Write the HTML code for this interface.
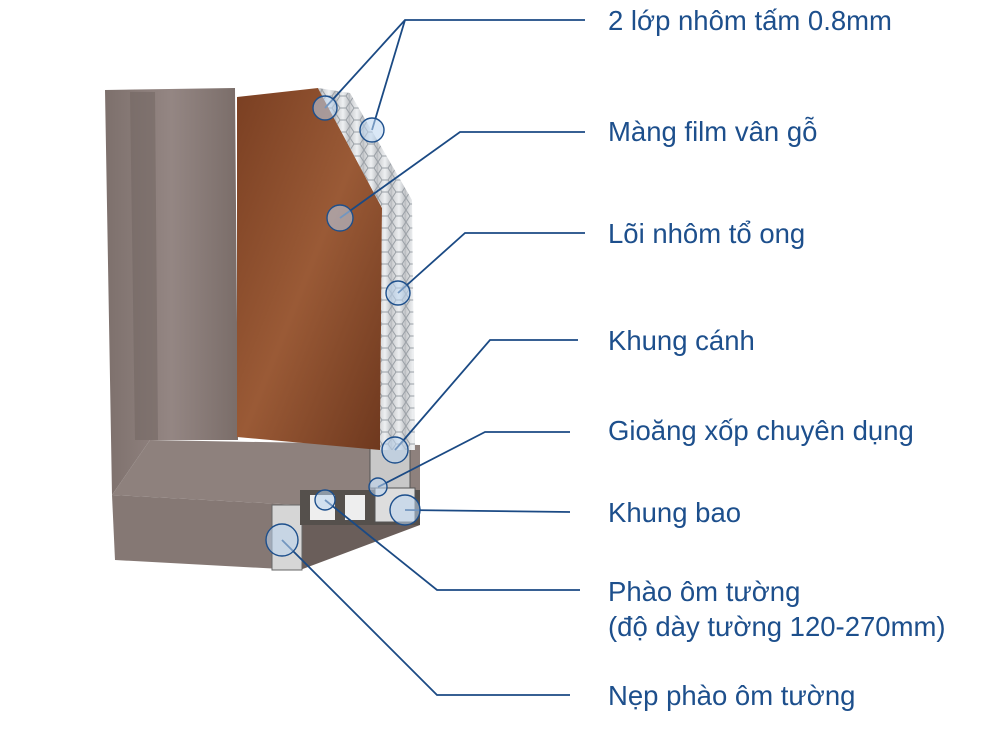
<!DOCTYPE html>
<html><head><meta charset="utf-8"><style>
html,body{margin:0;padding:0;background:#fff;}
svg{display:block}
text{font-family:"Liberation Sans",sans-serif;font-size:27.5px;fill:#1d4f8c;}
</style></head><body>
<svg width="986" height="740" viewBox="0 0 986 740" xmlns="http://www.w3.org/2000/svg">
<defs>
<linearGradient id="fr" x1="0" x2="1"><stop offset="0" stop-color="#7d706c"/><stop offset="0.5" stop-color="#948683"/><stop offset="1" stop-color="#7a6d69"/></linearGradient>
<linearGradient id="wd" x1="0" x2="1" y1="0" y2="1"><stop offset="0" stop-color="#7a3f22"/><stop offset="0.5" stop-color="#9a5a36"/><stop offset="1" stop-color="#6e381e"/></linearGradient>
<linearGradient id="hc" x1="0" x2="1"><stop offset="0" stop-color="#c9cbce"/><stop offset="0.5" stop-color="#eef0f2"/><stop offset="1" stop-color="#b8bbbf"/></linearGradient>
<pattern id="hx" width="14" height="12" patternUnits="userSpaceOnUse"><rect width="14" height="12" fill="url(#hc)"/><path d="M0 6 L4 0 L10 0 L14 6 L10 12 L4 12 Z" fill="none" stroke="#9aa0a6" stroke-width="1"/></pattern>
</defs>
<polygon points="105,90 235,88 238,440 150,440 112,495" fill="url(#fr)"/>
<polygon points="130,92 155,92 158,440 135,440" fill="#6f6360" opacity="0.5"/>
<polygon points="112,495 150,440 420,445 420,500 300,505" fill="#8e817d"/>
<polygon points="112,495 300,505 300,570 115,560" fill="#857874"/>
<polygon points="300,505 420,500 420,525 300,570" fill="#6a5e5a"/>
<rect x="272" y="505" width="30" height="65" fill="#d6d6d6" stroke="#666" stroke-width="1"/>
<rect x="300" y="490" width="120" height="35" fill="#55504c"/>
<rect x="310" y="495" width="25" height="25" fill="#eee"/>
<rect x="345" y="495" width="20" height="25" fill="#eee"/>
<rect x="375" y="488" width="40" height="34" fill="#ddd" stroke="#555"/>
<rect x="370" y="440" width="40" height="48" fill="#c8c8c8" stroke="#555"/>
<polygon points="237,97 318,88 382,208 380,450 237,437" fill="url(#wd)"/>
<polygon points="318,88 350,93 412,200 415,450 380,450 382,208" fill="url(#hx)"/>
<g stroke="#1b4a84" stroke-width="1.8" fill="none">
<polyline points="325,108 405,20 585,20"/><line x1="405" y1="20" x2="372" y2="130"/>
<polyline points="340,218 460,132 585,132"/>
<polyline points="398,293 465,233 585,233"/>
<polyline points="395,450 490,340 578,340"/>
<polyline points="378,487 485,432 570,432"/>
<polyline points="405,510 570,512"/>
<polyline points="325,500 437,590 580,590"/>
<polyline points="282,540 437,695 570,695"/>
</g>
<g fill="#bcd6f0" fill-opacity="0.55" stroke="#1d4f8c" stroke-width="1.4">
<circle cx="325" cy="108" r="12"/><circle cx="372" cy="130" r="12"/>
<circle cx="340" cy="218" r="13"/><circle cx="398" cy="293" r="12"/>
<circle cx="395" cy="450" r="13"/><circle cx="378" cy="487" r="9"/>
<circle cx="405" cy="510" r="15"/><circle cx="325" cy="500" r="10"/>
<circle cx="282" cy="540" r="16"/>
</g>
<text x="608" y="30">2 lớp nhôm tấm 0.8mm</text>
<text x="608" y="141">Màng film vân gỗ</text>
<text x="608" y="243">Lõi nhôm tổ ong</text>
<text x="608" y="350">Khung cánh</text>
<text x="608" y="440">Gioăng xốp chuyên dụng</text>
<text x="608" y="522">Khung bao</text>
<text x="608" y="601">Phào ôm tường</text>
<text x="608" y="636">(độ dày tường 120-270mm)</text>
<text x="608" y="705">Nẹp phào ôm tường</text>
</svg>
</body></html>
